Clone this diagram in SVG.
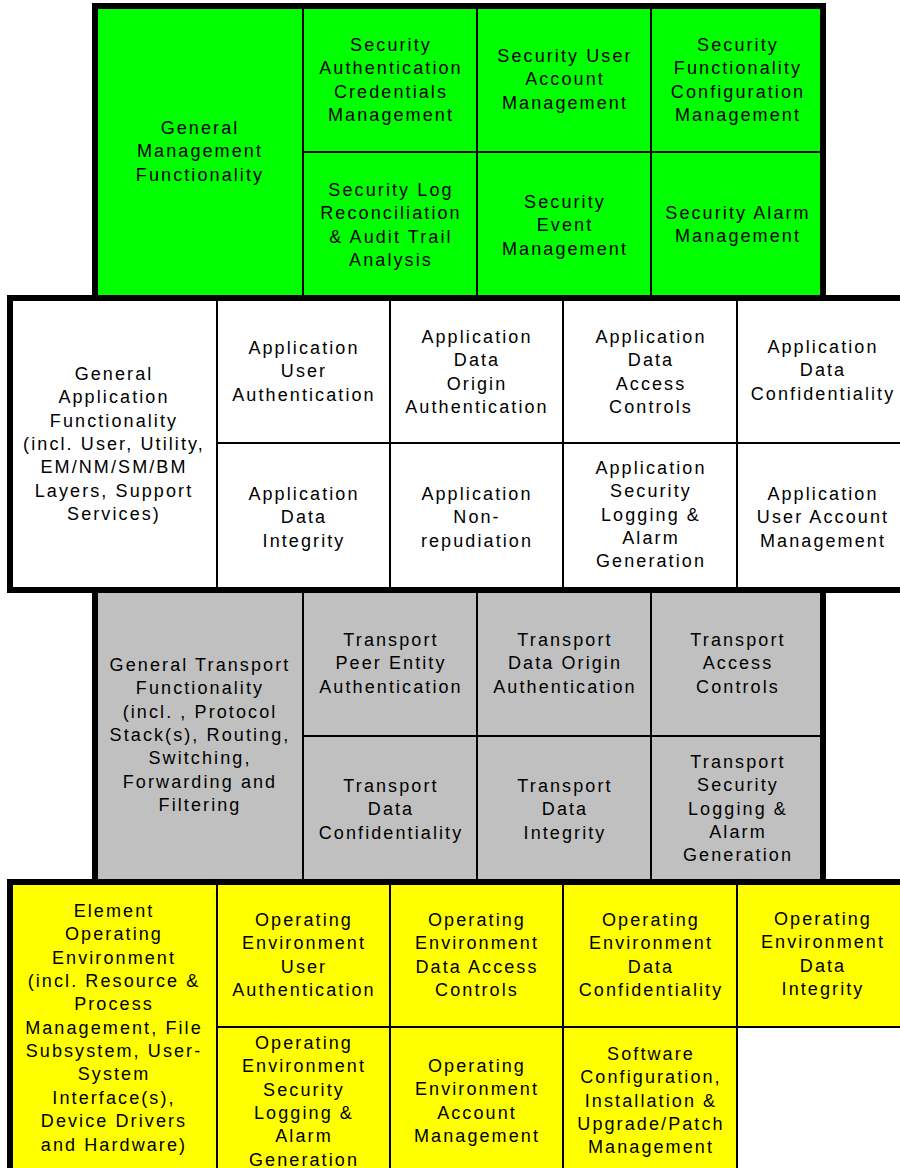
<svg xmlns="http://www.w3.org/2000/svg" width="900" height="1168" viewBox="0 0 900 1168">
  <style>
    .frame { stroke: #000; stroke-width: 6; }
    .div { stroke: #000; stroke-width: 2; fill: none; }
    .green { fill: #00ff00; }
    .white { fill: #ffffff; }
    .grey { fill: #c0c0c0; }
    .yellow { fill: #ffff00; }
    text { font-family: "Liberation Sans", Arial, Helvetica, sans-serif; font-size: 18px; letter-spacing: 2.1px; text-anchor: middle; fill: #000; }
  </style>
  <rect x="0" y="0" width="900" height="1168" fill="#ffffff"/>

  <!-- Management layer -->
  <g id="management">
    <rect class="frame green" x="95" y="6" width="728" height="292"/>
    <path class="div" d="M303 6V298M477 6V298M651 6V298M303 152H823"/>
    <g id="general-management">
      <text y="134"><tspan x="200">General</tspan><tspan x="200" dy="23.3">Management</tspan><tspan x="200" dy="23.3">Functionality</tspan></text>
    </g>
    <g id="sec-auth-credentials">
      <text y="51"><tspan x="391">Security</tspan><tspan x="391" dy="23.3">Authentication</tspan><tspan x="391" dy="23.3">Credentials</tspan><tspan x="391" dy="23.3">Management</tspan></text>
    </g>
    <g id="sec-user-account">
      <text y="62"><tspan x="565">Security User</tspan><tspan x="565" dy="23.3">Account</tspan><tspan x="565" dy="23.3">Management</tspan></text>
    </g>
    <g id="sec-func-config">
      <text y="51"><tspan x="738">Security</tspan><tspan x="738" dy="23.3">Functionality</tspan><tspan x="738" dy="23.3">Configuration</tspan><tspan x="738" dy="23.3">Management</tspan></text>
    </g>
    <g id="sec-log-audit">
      <text y="196"><tspan x="391">Security Log</tspan><tspan x="391" dy="23.3">Reconciliation</tspan><tspan x="391" dy="23.3">&amp; Audit Trail</tspan><tspan x="391" dy="23.3">Analysis</tspan></text>
    </g>
    <g id="sec-event">
      <text y="208"><tspan x="565">Security</tspan><tspan x="565" dy="23.3">Event</tspan><tspan x="565" dy="23.3">Management</tspan></text>
    </g>
    <g id="sec-alarm">
      <text y="219"><tspan x="738">Security Alarm</tspan><tspan x="738" dy="23.3">Management</tspan></text>
    </g>
  </g>

  <!-- Application layer -->
  <g id="application">
    <rect class="frame white" x="10" y="298" width="897" height="292"/>
    <path class="div" d="M217 298V590M390 298V590M563 298V590M737 298V590M217 443H907"/>
    <g id="general-application">
      <text y="380"><tspan x="114">General</tspan><tspan x="114" dy="23.3">Application</tspan><tspan x="114" dy="23.3">Functionality</tspan><tspan x="114" dy="23.3">(incl. User, Utility,</tspan><tspan x="114" dy="23.3">EM/NM/SM/BM</tspan><tspan x="114" dy="23.3">Layers, Support</tspan><tspan x="114" dy="23.3">Services)</tspan></text>
    </g>
    <g id="app-user-auth">
      <text y="354"><tspan x="304">Application</tspan><tspan x="304" dy="23.3">User</tspan><tspan x="304" dy="23.3">Authentication</tspan></text>
    </g>
    <g id="app-data-origin">
      <text y="343"><tspan x="477">Application</tspan><tspan x="477" dy="23.3">Data</tspan><tspan x="477" dy="23.3">Origin</tspan><tspan x="477" dy="23.3">Authentication</tspan></text>
    </g>
    <g id="app-access">
      <text y="343"><tspan x="651">Application</tspan><tspan x="651" dy="23.3">Data</tspan><tspan x="651" dy="23.3">Access</tspan><tspan x="651" dy="23.3">Controls</tspan></text>
    </g>
    <g id="app-confidentiality">
      <text y="353"><tspan x="823">Application</tspan><tspan x="823" dy="23.3">Data</tspan><tspan x="823" dy="23.3">Confidentiality</tspan></text>
    </g>
    <g id="app-integrity">
      <text y="500"><tspan x="304">Application</tspan><tspan x="304" dy="23.3">Data</tspan><tspan x="304" dy="23.3">Integrity</tspan></text>
    </g>
    <g id="app-nonrepudiation">
      <text y="500"><tspan x="477">Application</tspan><tspan x="477" dy="23.3">Non-</tspan><tspan x="477" dy="23.3">repudiation</tspan></text>
    </g>
    <g id="app-logging">
      <text y="474"><tspan x="651">Application</tspan><tspan x="651" dy="23.3">Security</tspan><tspan x="651" dy="23.3">Logging &amp;</tspan><tspan x="651" dy="23.3">Alarm</tspan><tspan x="651" dy="23.3">Generation</tspan></text>
    </g>
    <g id="app-user-account">
      <text y="500"><tspan x="823">Application</tspan><tspan x="823" dy="23.3">User Account</tspan><tspan x="823" dy="23.3">Management</tspan></text>
    </g>
  </g>

  <!-- Transport layer -->
  <g id="transport">
    <rect class="frame grey" x="95" y="590" width="728" height="292"/>
    <path class="div" d="M303 590V882M477 590V882M651 590V882M303 736H823"/>
    <g id="general-transport">
      <text y="671"><tspan x="200">General Transport</tspan><tspan x="200" dy="23.3">Functionality</tspan><tspan x="200" dy="23.3">(incl. , Protocol</tspan><tspan x="200" dy="23.3">Stack(s), Routing,</tspan><tspan x="200" dy="23.3">Switching,</tspan><tspan x="200" dy="23.3">Forwarding and</tspan><tspan x="200" dy="23.3">Filtering</tspan></text>
    </g>
    <g id="tr-peer-auth">
      <text y="646"><tspan x="391">Transport</tspan><tspan x="391" dy="23.3">Peer Entity</tspan><tspan x="391" dy="23.3">Authentication</tspan></text>
    </g>
    <g id="tr-data-origin">
      <text y="646"><tspan x="565">Transport</tspan><tspan x="565" dy="23.3">Data Origin</tspan><tspan x="565" dy="23.3">Authentication</tspan></text>
    </g>
    <g id="tr-access">
      <text y="646"><tspan x="738">Transport</tspan><tspan x="738" dy="23.3">Access</tspan><tspan x="738" dy="23.3">Controls</tspan></text>
    </g>
    <g id="tr-confidentiality">
      <text y="792"><tspan x="391">Transport</tspan><tspan x="391" dy="23.3">Data</tspan><tspan x="391" dy="23.3">Confidentiality</tspan></text>
    </g>
    <g id="tr-integrity">
      <text y="792"><tspan x="565">Transport</tspan><tspan x="565" dy="23.3">Data</tspan><tspan x="565" dy="23.3">Integrity</tspan></text>
    </g>
    <g id="tr-logging">
      <text y="768"><tspan x="738">Transport</tspan><tspan x="738" dy="23.3">Security</tspan><tspan x="738" dy="23.3">Logging &amp;</tspan><tspan x="738" dy="23.3">Alarm</tspan><tspan x="738" dy="23.3">Generation</tspan></text>
    </g>
  </g>

  <!-- Operating environment layer -->
  <g id="operating-environment">
    <rect class="frame yellow" x="10" y="882" width="897" height="291"/>
    <rect class="white" x="738" y="1028" width="172" height="150"/>
    <path class="div" d="M217 882V1173M390 882V1173M563 882V1173M737 882V1173M217 1027H907"/>
    <g id="element-oe">
      <text y="917"><tspan x="114">Element</tspan><tspan x="114" dy="23.35">Operating</tspan><tspan x="114" dy="23.35">Environment</tspan><tspan x="114" dy="23.35">(incl. Resource &amp;</tspan><tspan x="114" dy="23.35">Process</tspan><tspan x="114" dy="23.35">Management, File</tspan><tspan x="114" dy="23.35">Subsystem, User-</tspan><tspan x="114" dy="23.35">System</tspan><tspan x="114" dy="23.35">Interface(s),</tspan><tspan x="114" dy="23.35">Device Drivers</tspan><tspan x="114" dy="23.35">and Hardware)</tspan></text>
    </g>
    <g id="oe-user-auth">
      <text y="926"><tspan x="304">Operating</tspan><tspan x="304" dy="23.3">Environment</tspan><tspan x="304" dy="23.3">User</tspan><tspan x="304" dy="23.3">Authentication</tspan></text>
    </g>
    <g id="oe-access">
      <text y="926"><tspan x="477">Operating</tspan><tspan x="477" dy="23.3">Environment</tspan><tspan x="477" dy="23.3">Data Access</tspan><tspan x="477" dy="23.3">Controls</tspan></text>
    </g>
    <g id="oe-confidentiality">
      <text y="926"><tspan x="651">Operating</tspan><tspan x="651" dy="23.3">Environment</tspan><tspan x="651" dy="23.3">Data</tspan><tspan x="651" dy="23.3">Confidentiality</tspan></text>
    </g>
    <g id="oe-integrity">
      <text y="925"><tspan x="823">Operating</tspan><tspan x="823" dy="23.3">Environment</tspan><tspan x="823" dy="23.3">Data</tspan><tspan x="823" dy="23.3">Integrity</tspan></text>
    </g>
    <g id="oe-logging">
      <text y="1049"><tspan x="304">Operating</tspan><tspan x="304" dy="23.3">Environment</tspan><tspan x="304" dy="23.3">Security</tspan><tspan x="304" dy="23.3">Logging &amp;</tspan><tspan x="304" dy="23.3">Alarm</tspan><tspan x="304" dy="23.3">Generation</tspan></text>
    </g>
    <g id="oe-account">
      <text y="1072"><tspan x="477">Operating</tspan><tspan x="477" dy="23.3">Environment</tspan><tspan x="477" dy="23.3">Account</tspan><tspan x="477" dy="23.3">Management</tspan></text>
    </g>
    <g id="sw-config">
      <text y="1060"><tspan x="651">Software</tspan><tspan x="651" dy="23.3">Configuration,</tspan><tspan x="651" dy="23.3">Installation &amp;</tspan><tspan x="651" dy="23.3">Upgrade/Patch</tspan><tspan x="651" dy="23.3">Management</tspan></text>
    </g>
  </g>
</svg>
